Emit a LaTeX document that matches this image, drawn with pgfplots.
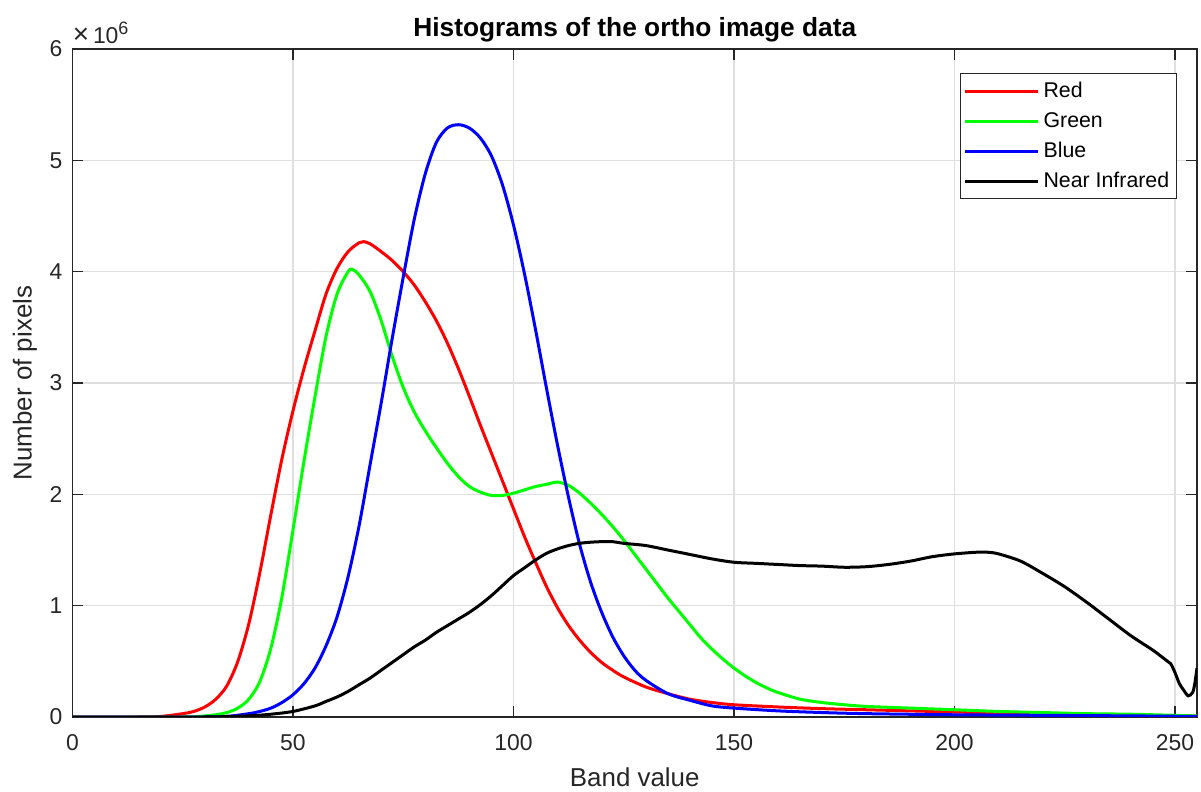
\documentclass[border=0pt]{standalone}
\usepackage{fontspec}
\setmainfont{Liberation Sans}
\usepackage{pgfplots}
\pgfplotsset{compat=1.18}
\definecolor{axgray}{RGB}{38,38,38}
\definecolor{gridgray}{RGB}{223,223,223}
\definecolor{mred}{RGB}{255,0,0}
\definecolor{mgreen}{RGB}{0,255,0}
\definecolor{mblue}{RGB}{0,0,255}

\begin{document}
\begin{tikzpicture}
\useasboundingbox (-36.25bp,-37.5bp) rectangle (564.25bp,358.5bp);
\begin{axis}[
  name=ax, at={(0,0)}, anchor=south west,
  scale only axis, width=562.25bp, height=334bp,
  xmin=0, xmax=255, ymin=0, ymax=6,
  xtick={0,50,...,250}, ytick={0,1,2,3,4,5,6},
  grid=major, grid style={gridgray, line width=0.6bp},
  axis line style={axgray, line width=0.8bp},
  tick style={axgray, line width=0.8bp},
  tick align=inside, major tick length=5.5bp,
  ticklabel style={font=\fontsize{11.5}{13}\selectfont, text=axgray},
  /pgf/number format/assume math mode=true,
  xticklabel style={yshift=-5bp},
  yticklabel style={xshift=-1.5bp},
  title={Histograms of the ortho image data},
  every axis title shift=0pt,
  title style={font=\fontsize{13.2}{15}\selectfont\bfseries,
    at={(axis description cs:0.5,1.0184)}, anchor=base},
  xlabel={Band value},
  ylabel={Number of pixels},
  xlabel style={font=\fontsize{13}{15}\selectfont, text=axgray,
    at={(axis description cs:0.5,-0.1043)}, anchor=base},
  ylabel style={font=\fontsize{13}{15}\selectfont, text=axgray,
    at={(axis description cs:-0.0363,0.5)}, anchor=base},
  legend style={at={(axis description cs:0.98195,0.96362)}, anchor=north east,
    draw=axgray, line width=0.5bp, fill=white,
    inner xsep=1.5bp, inner ysep=1.25bp, row sep=0bp,
    font=\fontsize{10.7}{12}\selectfont,
    nodes={inner xsep=2bp, inner ysep=1.5bp, text height=9bp, text depth=3bp}},
  legend cell align=left,
  legend image code/.code={\draw[#1] (0bp,0bp) -- (36.5bp,0bp);},
  every axis plot/.append style={line width=1.5bp, smooth, tension=0.5},
]
% red band
\addplot[mred] coordinates {
(0,0)(15,0)(20,0.005)(25,0.03)(27.5,0.05)(30,0.09)(32.5,0.16)(35,0.28)(37.5,0.5)
(40,0.84)(42.5,1.3)(45,1.82)(47.5,2.32)(50,2.75)(52.5,3.13)(55,3.47)(57.5,3.8)
(60,4.03)(62.5,4.18)(65,4.26)(66,4.27)(67.5,4.25)(70,4.18)(72.5,4.1)(75,4.0)
(77.5,3.88)(80,3.73)(82.5,3.56)(85,3.36)(87.5,3.13)(90,2.88)(92.5,2.62)
(95,2.37)(97.5,2.12)(100,1.87)(102.5,1.62)(105,1.39)(107.5,1.17)(110,0.98)
(112.5,0.82)(115,0.69)(117.5,0.58)(120,0.49)(122.5,0.42)(125,0.36)(130,0.27)
(135,0.21)(140,0.16)(145,0.13)(150,0.11)(160,0.09)(170,0.075)(180,0.065)
(190,0.055)(200,0.045)(210,0.035)(220,0.028)(230,0.02)(240,0.015)(250,0.01)
(255,0.008)};
\addlegendentry{Red}
% green band
\addplot[mgreen] coordinates {
(0,0)(25,0)(30,0.01)(32.5,0.02)(35,0.04)(37.5,0.08)(40,0.16)(42.5,0.32)(45,0.62)
(47.5,1.08)(50,1.68)(52.5,2.3)(55,2.88)(57.5,3.42)(60,3.8)(62.5,4.0)(63.5,4.02)
(65,3.97)(67.5,3.82)(70,3.56)(72.5,3.24)(75,2.96)(77.5,2.74)(80,2.57)
(82.5,2.42)(85,2.28)(87.5,2.16)(90,2.07)(92.5,2.02)(95,1.99)(97.5,1.99)
(100,2.01)(102.5,2.04)(105,2.07)(107.5,2.09)(110,2.11)(112.5,2.08)(115,2.01)
(117.5,1.92)(120,1.82)(122.5,1.71)(125,1.59)(127.5,1.46)(130,1.33)(132.5,1.2)
(135,1.07)(137.5,0.95)(140,0.83)(142.5,0.71)(145,0.61)(147.5,0.52)(150,0.44)
(152.5,0.37)(155,0.31)(157.5,0.26)(160,0.22)(165,0.16)(170,0.13)(175,0.11)
(180,0.095)(190,0.08)(200,0.065)(210,0.05)(220,0.04)(230,0.03)(240,0.025)
(250,0.015)(255,0.01)};
\addlegendentry{Green}
% blue band
\addplot[mblue] coordinates {
(0,0)(30,0)(35,0.005)(40,0.03)(42.5,0.05)(45,0.08)(47.5,0.13)(50,0.2)(52.5,0.3)
(55,0.44)(57.5,0.64)(60,0.9)(62.5,1.26)(65,1.72)(67.5,2.27)(70,2.82)(72.5,3.4)
(75,3.95)(77.5,4.47)(80,4.88)(82.5,5.16)(85,5.29)(87.5,5.32)(90,5.29)(92.5,5.2)
(95,5.04)(97.5,4.78)(100,4.42)(102.5,3.98)(105,3.48)(107.5,2.95)(110,2.44)
(112.5,1.97)(115,1.55)(117.5,1.21)(120,0.94)(122.5,0.72)(125,0.55)(127.5,0.42)
(130,0.33)(135,0.21)(140,0.15)(145,0.1)(150,0.08)(160,0.055)(170,0.04)
(180,0.03)(200,0.02)(220,0.015)(240,0.01)(255,0.005)};
\addlegendentry{Blue}
% near infrared band
\addplot[black] coordinates {
(0,0)(30,0)(35,0.005)(40,0.01)(45,0.025)(50,0.05)(55,0.1)(57.5,0.14)(60,0.18)
(62.5,0.23)(65,0.29)(67.5,0.35)(70,0.42)(72.5,0.49)(75,0.56)(77.5,0.63)
(80,0.69)(82.5,0.76)(85,0.82)(87.5,0.88)(90,0.94)(92.5,1.01)(95,1.09)
(97.5,1.18)(100,1.27)(102.5,1.34)(105,1.41)(107.5,1.47)(110,1.51)(112.5,1.54)
(115,1.56)(117.5,1.57)(120,1.575)(122.5,1.575)(125,1.56)(130,1.54)(135,1.5)
(140,1.46)(145,1.42)(150,1.39)(155,1.38)(160,1.37)(165,1.36)(170,1.355)
(175,1.345)(180,1.35)(185,1.37)(190,1.4)(195,1.44)(200,1.465)(205,1.48)
(207.5,1.48)(210,1.465)(215,1.4)(220,1.29)(225,1.17)(230,1.03)(235,0.88)
(240,0.73)(245,0.6)(248,0.51)(249,0.48)(250,0.4)(251,0.3)(252,0.24)(253,0.19)
(254,0.22)(254.5,0.3)(255,0.44)};
\addlegendentry{Near Infrared}
\end{axis}
\node[anchor=base west, inner sep=0pt, text=axgray, font=\fontsize{11.5}{13}\selectfont]
  at ([yshift=3bp]ax.north west) {{\fontsize{14}{14}\selectfont ×}\,10\textsuperscript{\fontsize{9}{9}\selectfont 6}};
\end{tikzpicture}
\end{document}
